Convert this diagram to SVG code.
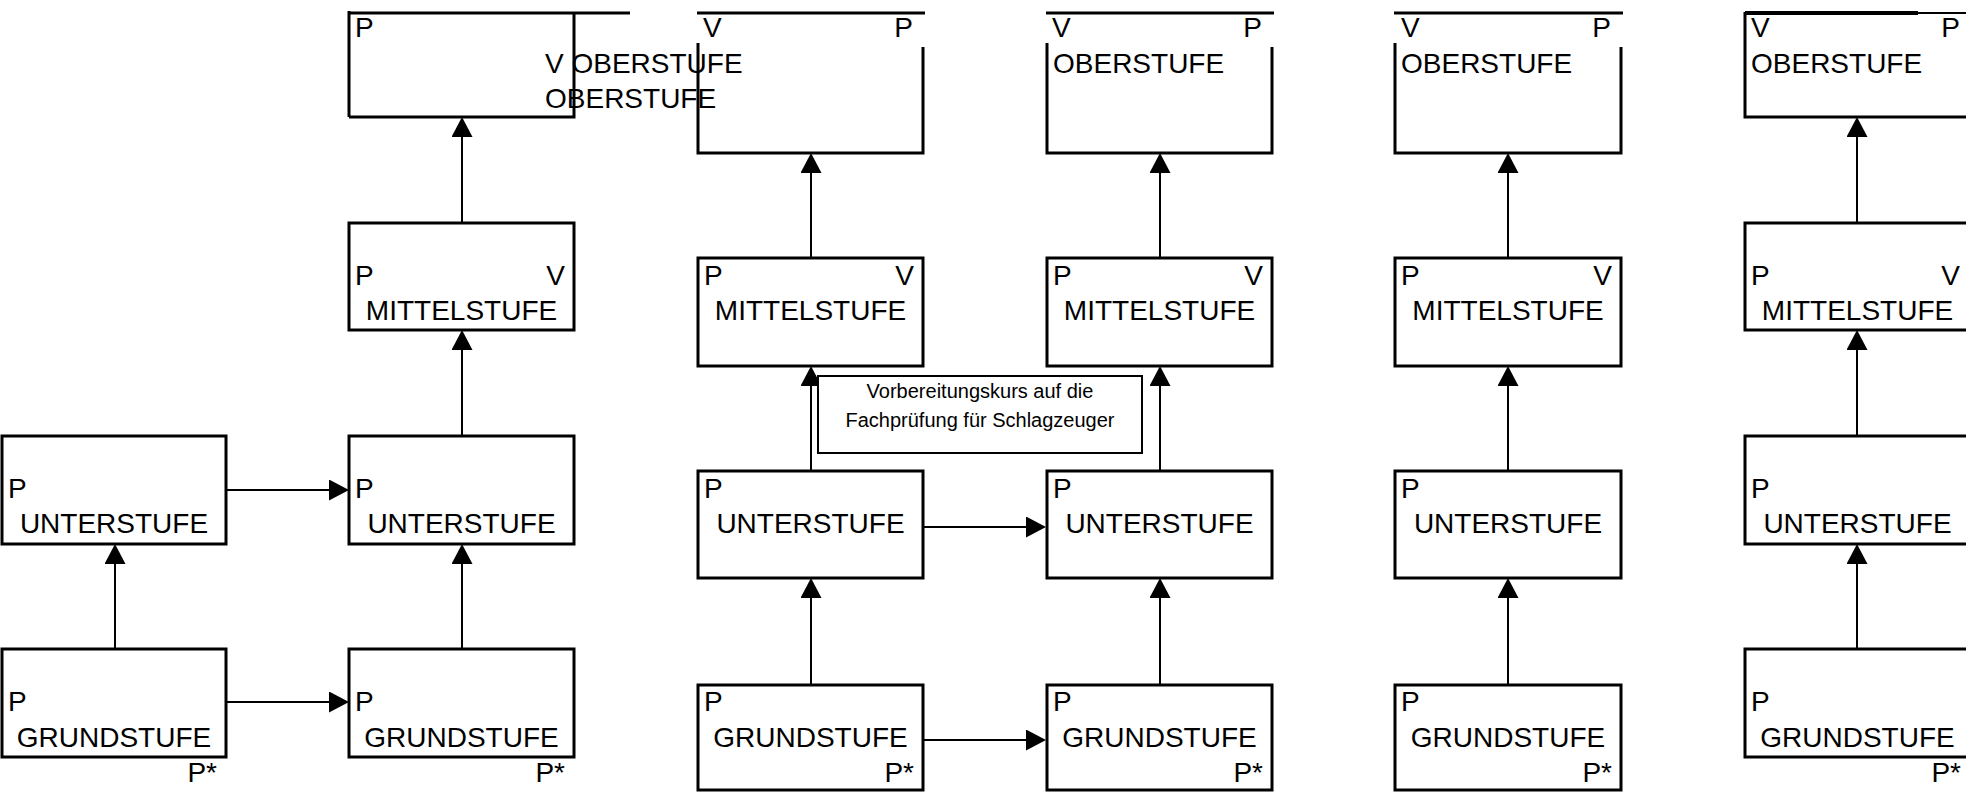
<svg xmlns="http://www.w3.org/2000/svg" width="1966" height="792" viewBox="0 0 1966 792">
<style>
.bx{fill:none;stroke:#000;stroke-width:3}
.t{font-family:"Liberation Sans",Arial,sans-serif;font-size:28px;fill:#000}
.m{text-anchor:middle}
.e{text-anchor:end}
.c{stroke:#000;stroke-width:2;fill:none;marker-end:url(#ah)}
.lb{fill:#fff;stroke:#000;stroke-width:2}
.ls{font-family:"Liberation Sans",Arial,sans-serif;font-size:20px;fill:#000;text-anchor:middle}
</style>
<defs>
<marker id="ah" viewBox="0 0 20 21" refX="10" refY="10.5" markerWidth="20" markerHeight="21" markerUnits="userSpaceOnUse" orient="auto">
<path d="M0,0 L20,10.5 L0,21 Z" fill="#000"/>
</marker>
</defs>
<rect width="1966" height="792" fill="#fff"/>

<g id="connectors">
<line class="c" x1="115" y1="649" x2="115" y2="554"/>
<line class="c" x1="462" y1="649" x2="462" y2="554"/>
<line class="c" x1="462" y1="436" x2="462" y2="340"/>
<line class="c" x1="462" y1="223" x2="462" y2="127"/>
<line class="c" x1="811" y1="685" x2="811" y2="588"/>
<line class="c" x1="811" y1="471" x2="811" y2="376"/>
<line class="c" x1="811" y1="258" x2="811" y2="163"/>
<line class="c" x1="1160" y1="685" x2="1160" y2="588"/>
<line class="c" x1="1160" y1="471" x2="1160" y2="376"/>
<line class="c" x1="1160" y1="258" x2="1160" y2="163"/>
<line class="c" x1="1508" y1="685" x2="1508" y2="588"/>
<line class="c" x1="1508" y1="471" x2="1508" y2="376"/>
<line class="c" x1="1508" y1="258" x2="1508" y2="163"/>
<line class="c" x1="1857" y1="649" x2="1857" y2="554"/>
<line class="c" x1="1857" y1="436" x2="1857" y2="340"/>
<line class="c" x1="1857" y1="223" x2="1857" y2="127"/>
<line class="c" x1="226" y1="490" x2="339" y2="490"/>
<line class="c" x1="226" y1="702" x2="339" y2="702"/>
<line class="c" x1="923" y1="527" x2="1036" y2="527"/>
<line class="c" x1="923" y1="740" x2="1036" y2="740"/>
</g>

<g id="label-vorbereitung">
<rect class="lb" x="818" y="376" width="324" height="77"/>
<text class="ls" x="980" y="398">Vorbereitungskurs auf die</text>
<text class="ls" x="980" y="427">Fachprüfung für Schlagzeuger</text>
</g>

<!-- column 0 -->
<g id="c0-unter">
<rect class="bx" x="2" y="436" width="224" height="108"/>
<text class="t" x="8" y="498">P</text>
<text class="t m" x="114" y="533">UNTERSTUFE</text>
</g>
<g id="c0-grund">
<rect class="bx" x="2" y="649" width="224" height="108"/>
<text class="t" x="8" y="711">P</text>
<text class="t m" x="114" y="747">GRUNDSTUFE</text>
<text class="t e" x="217" y="782">P*</text>
</g>

<!-- column 1 -->
<g id="c1-ober">
<path class="bx" d="M349,117 V11 M349,13 H630 M574,13 V117 H349"/>
<text class="t" x="355" y="37">P</text>
<text class="t" x="545" y="73">V OBERSTUFE</text>
<text class="t" x="545" y="108">OBERSTUFE</text>
</g>
<g id="c1-mittel">
<rect class="bx" x="349" y="223" width="225" height="107"/>
<text class="t" x="355" y="285">P</text>
<text class="t e" x="565" y="285">V</text>
<text class="t m" x="461.5" y="320">MITTELSTUFE</text>
</g>
<g id="c1-unter">
<rect class="bx" x="349" y="436" width="225" height="108"/>
<text class="t" x="355" y="498">P</text>
<text class="t m" x="461.5" y="533">UNTERSTUFE</text>
</g>
<g id="c1-grund">
<rect class="bx" x="349" y="649" width="225" height="108"/>
<text class="t" x="355" y="711">P</text>
<text class="t m" x="461.5" y="747">GRUNDSTUFE</text>
<text class="t e" x="565" y="782">P*</text>
</g>

<!-- column 2 -->
<g id="c2-ober">
<path class="bx" d="M697,13 H925 M698,43 V153 H923 V47"/>
<text class="t" x="703" y="37">V</text>
<text class="t e" x="913" y="37">P</text>
</g>
<g id="c2-mittel">
<rect class="bx" x="698" y="258" width="225" height="108"/>
<text class="t" x="704" y="285">P</text>
<text class="t e" x="914" y="285">V</text>
<text class="t m" x="810.5" y="320">MITTELSTUFE</text>
</g>
<g id="c2-unter">
<rect class="bx" x="698" y="471" width="225" height="107"/>
<text class="t" x="704" y="498">P</text>
<text class="t m" x="810.5" y="533">UNTERSTUFE</text>
</g>
<g id="c2-grund">
<rect class="bx" x="698" y="685" width="225" height="105"/>
<text class="t" x="704" y="711">P</text>
<text class="t m" x="810.5" y="747">GRUNDSTUFE</text>
<text class="t e" x="914" y="782">P*</text>
</g>

<!-- column 3 -->
<g id="c3-ober">
<path class="bx" d="M1046,13 H1274 M1047,43 V153 H1272 V47"/>
<text class="t" x="1052" y="37">V</text>
<text class="t e" x="1262" y="37">P</text>
<text class="t" x="1053" y="73">OBERSTUFE</text>
</g>
<g id="c3-mittel">
<rect class="bx" x="1047" y="258" width="225" height="108"/>
<text class="t" x="1053" y="285">P</text>
<text class="t e" x="1263" y="285">V</text>
<text class="t m" x="1159.5" y="320">MITTELSTUFE</text>
</g>
<g id="c3-unter">
<rect class="bx" x="1047" y="471" width="225" height="107"/>
<text class="t" x="1053" y="498">P</text>
<text class="t m" x="1159.5" y="533">UNTERSTUFE</text>
</g>
<g id="c3-grund">
<rect class="bx" x="1047" y="685" width="225" height="105"/>
<text class="t" x="1053" y="711">P</text>
<text class="t m" x="1159.5" y="747">GRUNDSTUFE</text>
<text class="t e" x="1263" y="782">P*</text>
</g>

<!-- column 4 -->
<g id="c4-ober">
<path class="bx" d="M1394,13 H1623 M1395,43 V153 H1621 V47"/>
<text class="t" x="1401" y="37">V</text>
<text class="t e" x="1611" y="37">P</text>
<text class="t" x="1401" y="73">OBERSTUFE</text>
</g>
<g id="c4-mittel">
<rect class="bx" x="1395" y="258" width="226" height="108"/>
<text class="t" x="1401" y="285">P</text>
<text class="t e" x="1612" y="285">V</text>
<text class="t m" x="1508" y="320">MITTELSTUFE</text>
</g>
<g id="c4-unter">
<rect class="bx" x="1395" y="471" width="226" height="107"/>
<text class="t" x="1401" y="498">P</text>
<text class="t m" x="1508" y="533">UNTERSTUFE</text>
</g>
<g id="c4-grund">
<rect class="bx" x="1395" y="685" width="226" height="105"/>
<text class="t" x="1401" y="711">P</text>
<text class="t m" x="1508" y="747">GRUNDSTUFE</text>
<text class="t e" x="1612" y="782">P*</text>
</g>

<!-- column 5 -->
<g id="c5-ober">
<path class="bx" d="M1745,12 V117 H1972"/>
<line x1="1745" y1="13" x2="1918" y2="13" stroke="#000" stroke-width="4"/>
<line x1="1918" y1="13" x2="1966" y2="13" stroke="#000" stroke-width="2"/>
<text class="t" x="1751" y="37">V</text>
<text class="t e" x="1960" y="37">P</text>
<text class="t" x="1751" y="73">OBERSTUFE</text>
</g>
<g id="c5-mittel">
<rect class="bx" x="1745" y="223" width="225" height="107"/>
<text class="t" x="1751" y="285">P</text>
<text class="t e" x="1960" y="285">V</text>
<text class="t m" x="1857.5" y="320">MITTELSTUFE</text>
</g>
<g id="c5-unter">
<rect class="bx" x="1745" y="436" width="225" height="108"/>
<text class="t" x="1751" y="498">P</text>
<text class="t m" x="1857.5" y="533">UNTERSTUFE</text>
</g>
<g id="c5-grund">
<rect class="bx" x="1745" y="649" width="225" height="108"/>
<text class="t" x="1751" y="711">P</text>
<text class="t m" x="1857.5" y="747">GRUNDSTUFE</text>
<text class="t e" x="1961" y="782">P*</text>
</g>
</svg>
